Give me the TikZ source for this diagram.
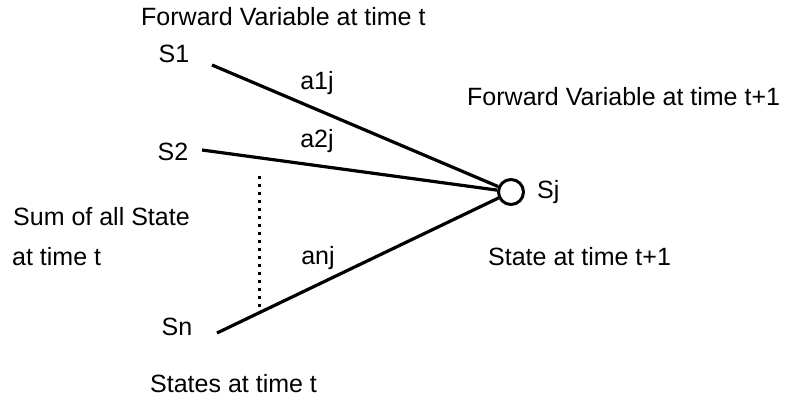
\documentclass[tikz,border=0pt]{standalone}
\usepackage{fontspec}
\setmainfont{Liberation Sans}
\usetikzlibrary{calc}
\definecolor{ink}{HTML}{000000}
\definecolor{paper}{HTML}{FFFFFF}
\newcommand{\diagfont}{\fontsize{25}{30}\selectfont}
\tikzset{
  statename/.style={
    anchor=base,
    inner sep=0pt,
    font=\diagfont
  },
  note/.style={
    anchor=base west,
    inner sep=0pt,
    font=\diagfont
  },
  weight/.style={
    anchor=base,
    inner sep=0pt,
    font=\diagfont
  },
  transition/.style={
    draw=ink,
    line width=3.2pt
  },
  target/.style={
    circle,
    draw=ink,
    fill=paper,
    line width=3pt,
    minimum size=25pt,
    inner sep=0pt
  },
  sumline/.style={
    draw=ink,
    line width=3pt,
    dash pattern=on 3pt off 5pt
  }
}
\begin{document}
\begin{tikzpicture}[x=1pt, y=-1pt]
  \fill[paper] (0,0) rectangle (787,399);
  \useasboundingbox (0,0) rectangle (787,399);

  % states at time t
  \node[note] (fwdt) at (141,25) {Forward Variable at time t};
  \node[statename] (s1) at (174,62) {S1};
  \node[statename] (s2) at (173,160) {S2};
  \node[statename] (sn) at (177,335) {Sn};
  \node[note] (statest) at (150,392) {States at time t};
  \node[note] (sumall) at (13,225) {Sum of all State};
  \node[note] (sumtime) at (12,265) {at time t};

  % state at time t+1
  \node[target] (sj) at (511,192) {};
  \node[statename, anchor=base west] (sjname) at (537,198) {Sj};
  \node[note] (fwdtt) at (467,105) {Forward Variable at time t+1};
  \node[note] (statett) at (488,265) {State at time t+1};

  % weights
  \node[weight] (a1j) at (317,89) {a1j};
  \node[weight] (a2j) at (317,147) {a2j};
  \node[weight] (anj) at (318,264) {anj};

  \coordinate (s1out) at (212,65);
  \coordinate (s2out) at (202,150);
  \coordinate (snout) at (217,333);
  \coordinate (dottop) at (259,176);
  \coordinate (dotbot) at ($(snout)!0.15!(sj)$);

  \draw[transition] (s1out) -- (sj);
  \draw[transition] (s2out) -- (sj);
  \draw[transition] (snout) -- (sj);
  \draw[sumline] (dottop) -- (dottop |- dotbot);
\end{tikzpicture}
\end{document}
